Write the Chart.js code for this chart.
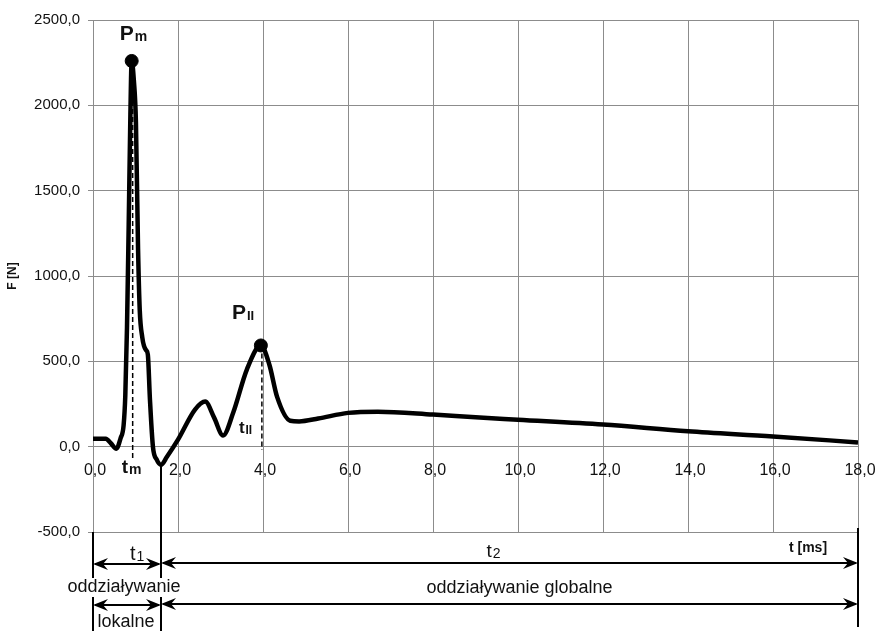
<!DOCTYPE html>
<html>
<head>
<meta charset="utf-8">
<script src="https://cdn.jsdelivr.net/npm/chart.js@4.4.0/dist/chart.umd.min.js"></script>
<style>
  html, body { margin: 0; padding: 0; background: #fff; }
  #wrap { width: 877px; height: 631px; }
</style>
</head>
<body>
<div id="wrap"><canvas id="silaChart" width="877" height="631"></canvas></div>
<script>
// czas [ms] i siła [N]
const czas = [0, 0.3, 0.42, 0.55, 0.65, 0.72, 0.76, 0.8, 0.84, 0.88, 0.91, 0.96, 1.01, 1.06, 1.1, 1.16, 1.2, 1.25, 1.29, 1.34, 1.41, 1.5, 1.6, 1.74, 2.0, 2.4, 2.64, 2.85, 3.06, 3.3, 3.62, 3.95, 4.15, 4.33, 4.64, 4.85, 5.3, 6.0, 6.7, 8.0, 9.0, 10.0, 12.0, 14.0, 16.0, 18.0];
const sila = [47, 46, 20, -12, 50, 125, 300, 700, 1300, 1950, 2260, 2150, 1900, 1160, 800, 640, 590, 565, 540, 276, 0, -76, -106, -59, 41, 217, 264, 170, 65, 200, 452, 593, 480, 293, 152, 148, 165, 198, 205, 188, 172, 158, 130, 90, 60, 25];

// punkty charakterystyczne Pm i PII
const szczytCzas = [0.91, 3.95];
const szczytSila = [2260, 593];

const xTicks = [0, 2, 4, 6, 8, 10, 12, 14, 16, 18];
const yTicks = [-500, 0, 500, 1000, 1500, 2000, 2500];

// granice oddziaływania lokalnego / globalnego
const t1Koniec = 1.6;
const t1Min = -106;
const tKoniec = 18;

const FONT = '"Liberation Sans", Arial, sans-serif';
const fmt = v => v.toFixed(1).replace('.', ',');

function napis(ctx, x, y, main, sub, size, subSize, bold) {
  const b = bold ? 'bold ' : '';
  ctx.font = b + size + 'px ' + FONT;
  ctx.textAlign = 'left';
  ctx.textBaseline = 'alphabetic';
  ctx.fillText(main, x, y);
  const w = ctx.measureText(main).width;
  ctx.font = b + subSize + 'px ' + FONT;
  ctx.fillText(sub, x + w + 1, y + 1);
}

function grot(ctx, x, y, dir) {
  ctx.beginPath();
  ctx.moveTo(x, y);
  ctx.lineTo(x - dir * 15, y - 6);
  ctx.lineTo(x - dir * 10, y);
  ctx.lineTo(x - dir * 15, y + 6);
  ctx.closePath();
  ctx.fill();
}

function strzalka(ctx, xa, xb, y) {
  ctx.beginPath();
  ctx.moveTo(xa + 2, y);
  ctx.lineTo(xb - 2, y);
  ctx.stroke();
  grot(ctx, xa, y, -1);
  grot(ctx, xb, y, 1);
}

// linie przerywane tm i tII
const przerywane = {
  id: 'przerywane',
  beforeDatasetsDraw(chart) {
    const ctx = chart.ctx;
    const xs = chart.scales.x, ys = chart.scales.y;
    ctx.save();
    ctx.strokeStyle = '#000';
    ctx.lineWidth = 1.5;
    ctx.setLineDash([5, 3]);
    ctx.beginPath();
    ctx.moveTo(xs.getPixelForValue(szczytCzas[0]) + 1, ys.getPixelForValue(szczytSila[0]));
    ctx.lineTo(xs.getPixelForValue(szczytCzas[0]) + 1, ys.getPixelForValue(-70));
    ctx.moveTo(xs.getPixelForValue(szczytCzas[1]) + 1, ys.getPixelForValue(szczytSila[1]));
    ctx.lineTo(xs.getPixelForValue(szczytCzas[1]) + 1, ys.getPixelForValue(-20));
    ctx.stroke();
    ctx.restore();
  }
};

const opisy = {
  id: 'opisy',
  afterDraw(chart) {
    const ctx = chart.ctx;
    const xs = chart.scales.x, ys = chart.scales.y;
    const y0 = ys.getPixelForValue(0);
    const bottom = chart.chartArea.bottom;
    const H = chart.height;
    ctx.save();
    ctx.fillStyle = '#111';

    // etykiety osi czasu przy linii zera
    ctx.font = '16px ' + FONT;
    ctx.textAlign = 'center';
    ctx.textBaseline = 'middle';
    xTicks.forEach(v => ctx.fillText(fmt(v), xs.getPixelForValue(v) + 2, y0 + 24));

    // Pm, PII
    const px0 = xs.getPixelForValue(szczytCzas[0]), py0 = ys.getPixelForValue(szczytSila[0]);
    const px1 = xs.getPixelForValue(szczytCzas[1]), py1 = ys.getPixelForValue(szczytSila[1]);
    napis(ctx, px0 - 12, py0 - 21, 'P', 'm', 21, 14, true);
    napis(ctx, px1 - 29, py1 - 26, 'P', 'II', 21, 13, true);
    napis(ctx, px0 - 10, y0 + 26, 't', 'm', 19, 14, true);
    napis(ctx, px1 - 22, y0 - 14, 't', 'II', 17, 12, true);

    // pionowe linie pod wykresem
    const x0 = xs.getPixelForValue(0);
    const x1 = xs.getPixelForValue(t1Koniec);
    const x2 = xs.getPixelForValue(tKoniec);
    ctx.strokeStyle = '#000';
    ctx.lineWidth = 2;
    ctx.beginPath();
    ctx.moveTo(x1, ys.getPixelForValue(t1Min));
    ctx.lineTo(x1, H);
    ctx.moveTo(x0, bottom);
    ctx.lineTo(x0, H);
    ctx.moveTo(x2, bottom - 4);
    ctx.lineTo(x2, H - 4);
    ctx.stroke();

    // strzałki t1, t2
    ctx.fillStyle = '#000';
    ctx.lineWidth = 2;
    strzalka(ctx, x0, x1, 564);
    strzalka(ctx, x1, x2, 563);
    strzalka(ctx, x0, x1, 605);
    strzalka(ctx, x1, x2, 604);

    ctx.fillStyle = '#111';
    napis(ctx, x0 + 37, 560, 't', '1', 20, 14, false);
    napis(ctx, (x1 + x2) / 2 - 23, 557, 't', '2', 19, 14, false);
    ctx.font = 'bold 14px ' + FONT;
    ctx.textAlign = 'center';
    ctx.textBaseline = 'alphabetic';
    ctx.fillText('t [ms]', x2 - 50, 552);

    // opisy oddziaływania
    ctx.font = '18px ' + FONT;
    ctx.textBaseline = 'middle';
    const lok = 'oddziaływanie';
    const w = ctx.measureText(lok).width;
    ctx.fillStyle = '#fff';
    ctx.fillRect((x0 + x1) / 2 - w / 2 - 1, 578, w + 2, 19);
    ctx.fillStyle = '#111';
    ctx.fillText(lok, (x0 + x1) / 2 - 3, 587);
    ctx.fillText('lokalne', (x0 + x1) / 2 - 1, 622);
    ctx.fillText('oddziaływanie globalne', (x1 + x2) / 2 + 10, 588);
    ctx.restore();
  }
};

const ctx = document.getElementById('silaChart').getContext('2d');
new Chart(ctx, {
  type: 'line',
  data: {
    datasets: [
      {
        data: czas.map((t, i) => ({ x: t, y: sila[i] })),
        borderColor: '#000',
        borderWidth: 4.5,
        pointRadius: 0,
        cubicInterpolationMode: 'monotone',
        fill: false
      },
      {
        data: szczytCzas.map((t, i) => ({ x: t, y: szczytSila[i] })),
        showLine: false,
        pointRadius: 6.5,
        pointBackgroundColor: '#000',
        pointBorderColor: '#000'
      }
    ]
  },
  options: {
    responsive: false,
    animation: false,
    devicePixelRatio: 1,
    layout: { padding: { left: 0, right: 19, top: 20, bottom: 99 } },
    plugins: {
      legend: { display: false },
      tooltip: { enabled: false }
    },
    scales: {
      x: {
        type: 'linear',
        min: 0,
        max: 18,
        ticks: { display: false, stepSize: 2 },
        grid: { color: '#8c8c8c', lineWidth: 1, drawTicks: false },
        border: { color: '#8c8c8c' },
        afterBuildTicks(scale) { scale.ticks = xTicks.map(v => ({ value: v })); },
        afterFit(scale) { scale.height = 0; }
      },
      y: {
        min: -500,
        max: 2500,
        ticks: {
          stepSize: 500,
          padding: 8,
          color: '#111',
          font: { family: FONT, size: 15 },
          callback: v => fmt(v)
        },
        afterBuildTicks(scale) { scale.ticks = yTicks.map(v => ({ value: v })); },
        grid: { color: '#8c8c8c', lineWidth: 1, tickLength: 5 },
        border: { color: '#8c8c8c' },
        title: {
          display: true,
          text: 'F [N]',
          color: '#111',
          font: { family: FONT, size: 12, weight: 'bold' },
          padding: { top: 5, bottom: 0 }
        },
        afterFit(scale) { scale.width = 93; }
      }
    }
  },
  plugins: [przerywane, opisy]
});
</script>
</body>
</html>
